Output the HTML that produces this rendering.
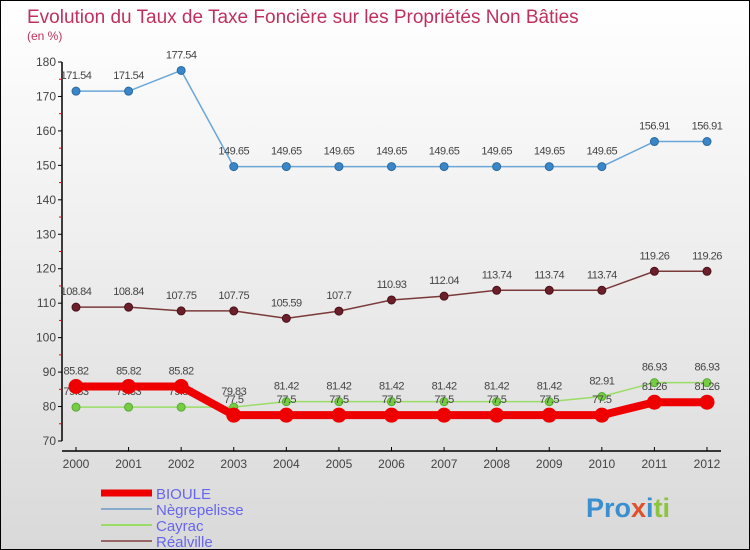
<!DOCTYPE html>
<html><head><meta charset="utf-8"><style>
body{margin:0;}
#c{width:750px;height:550px;position:relative;box-sizing:border-box;border:1px solid #000;background:linear-gradient(#fff 0%,#f4f4f4 30%,#d9d9d9 100%);font-family:"Liberation Sans",sans-serif;overflow:hidden}
svg text{font-family:"Liberation Sans",sans-serif}
</style></head><body>
<div id="c">
<svg id="s" width="750" height="550">
<text x="26" y="22" font-size="19" fill="#c0305e">Evolution du Taux de Taxe Foncière sur les Propriétés Non Bâties</text>
<text x="26" y="39" font-size="12" fill="#c0305e">(en %)</text>
<g id="axes"></g><g id="series"></g><g id="legend"></g>
<text x="585" y="516" font-size="27" font-weight="bold" fill="#f0a030"><tspan fill="#3a8fd0">Pro</tspan><tspan fill="#e0502a">x</tspan><tspan fill="#3a8fd0">i</tspan><tspan fill="#8cc43c">ti</tspan></text>
</svg></div>
<script>
const years=["2000","2001","2002","2003","2004","2005","2006","2007","2008","2009","2010","2011","2012"];
const yTicks=[70,80,90,100,110,120,130,140,150,160,170,180];
const bioule=[85.82,85.82,85.82,77.5,77.5,77.5,77.5,77.5,77.5,77.5,77.5,81.26,81.26];
const negrepelisse=[171.54,171.54,177.54,149.65,149.65,149.65,149.65,149.65,149.65,149.65,149.65,156.91,156.91];
const cayrac=[79.83,79.83,79.83,79.83,81.42,81.42,81.42,81.42,81.42,81.42,82.91,86.93,86.93];
const realville=[108.84,108.84,107.75,107.75,105.59,107.7,110.93,112.04,113.74,113.74,113.74,119.26,119.26];
const NS="http://www.w3.org/2000/svg";
const X=i=>75+i*(706-75)/(years.length-1);
const Y=v=>440-(v-70)*(440-61)/110;
function mk(tag,attrs,parent,txt){const e=document.createElementNS(NS,tag);for(const k in attrs)e.setAttribute(k,attrs[k]);if(txt!==undefined)e.textContent=txt;parent.appendChild(e);return e;}
const ax=document.getElementById('axes');
let yl=mk('line',{x1:61,y1:61,x2:61,y2:440,stroke:'#000','stroke-width':1.5},ax);


let xl=mk('line',{x1:61,y1:450,x2:720,y2:450,stroke:'#000','stroke-width':1.5},ax);


yTicks.forEach((t,i)=>{
  mk('line',{x1:57,y1:Y(t),x2:61,y2:Y(t),stroke:'#000'},ax);
  const tx=mk('text',{x:55,y:Y(t)+4,'font-size':12,fill:'#444','text-anchor':'end'},ax,String(t));
  
  
  if(i<yTicks.length-1)mk('line',{x1:58,y1:Y(t+5),x2:61,y2:Y(t+5),stroke:'#e00'},ax);
});
years.forEach((y,i)=>{
  mk('line',{x1:X(i),y1:446,x2:X(i),y2:450,stroke:'#000'},ax);
  const tx=mk('text',{x:X(i),y:467,'font-size':12,fill:'#444','text-anchor':'middle'},ax,y);
  
  
});
const sg=document.getElementById('series');
function series(name,vals,color,w,r,dot,stroke){
  const g=mk('g',{},sg);
  
  
  const pl=mk('polyline',{points:vals.map((v,i)=>X(i)+','+Y(v)).join(' '),fill:'none',stroke:color,'stroke-width':w},g);
  
  
  vals.forEach((v,i)=>{
    const c=mk('circle',{cx:X(i),cy:Y(v),r:r,fill:dot,stroke:stroke,'stroke-width':1},g);
    
    
    const t=mk('text',{x:X(i),y:Y(v)-12,'font-size':11,fill:'#444','text-anchor':'middle','letter-spacing':'-0.5'},g,String(v));
    
    
  });
}
series('negrepelisse',negrepelisse,'#6aa6d8',1.5,4,'#3a86c8','#2a6aa0');
series('realville',realville,'#7a3a3a',1.5,4,'#6a1f2a','#4a1018');
series('cayrac',cayrac,'#99dd66',1.5,4,'#77cc44','#55aa33');
series('bioule',bioule,'#ee0000',8,7,'#ee0000','#ee0000');
const lg=document.getElementById('legend');
const ents=[['BIOULE','#ee0000',7],['Nègrepelisse','#88aacc',2],['Cayrac','#99dd66',2],['Réalville','#996666',2]];
ents.forEach((e,i)=>{
  const y=492+i*16;
  const g=mk('g',{},lg);
  
  
  mk('line',{x1:100,y1:y,x2:151,y2:y,stroke:e[1],'stroke-width':e[2]},g);
  mk('text',{x:155,y:y+6,'font-size':15,fill:'#6666ee'},g,e[0]);
});
</script></body></html>
